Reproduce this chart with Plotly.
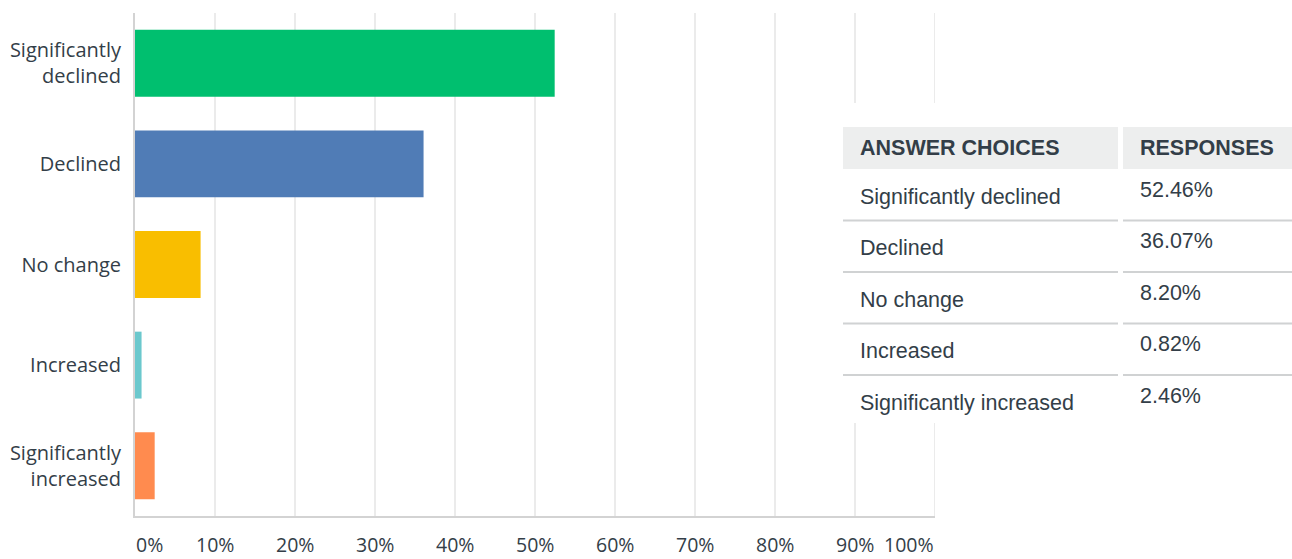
import plotly.graph_objects as go

# Survey answers, top to bottom
categories = ["Significantly declined", "Declined", "No change", "Increased", "Significantly increased"]
axis_labels = ["Significantly<br>declined", "Declined", "No change", "Increased", "Significantly<br>increased"]
responses = [52.46, 36.07, 8.20, 0.82, 2.46]
bar_colors = ["#00BF6F", "#507CB6", "#F9BE00", "#6BC8CD", "#FF8B4F"]

x_ticks = [0, 10, 20, 30, 40, 50, 60, 70, 80, 90, 100]
x_tick_labels = ["0%", "10%", "20%", "30%", "40%", "50%", "60%", "70%", "80%", "90%", "100%"]

table_header = ["ANSWER CHOICES", "RESPONSES"]

W, H = 1292, 559
L, R, T, B = 135, 935, 13, 516   # plot area in pixels

TEXT = "#333e48"
AXIS_FONT = "Open Sans"
TABLE_FONT = "Liberation Sans, Arial, sans-serif"
GRID = "#ebebeb"


def px(xp):
    return (xp - L) / (R - L)


def py(yp):
    return (B - yp) / (B - T)


fig = go.Figure(
    go.Bar(
        x=responses,
        y=axis_labels,
        orientation="h",
        marker=dict(color=bar_colors, line=dict(width=0)),
        hoverinfo="skip",
    )
)

fig.update_layout(
    width=W,
    height=H,
    margin=dict(l=L, r=W - R, t=T, b=H - B, pad=0, autoexpand=False),
    plot_bgcolor="white",
    paper_bgcolor="white",
    bargap=0.335,
    showlegend=False,
    font=dict(family=AXIS_FONT, size=20, color=TEXT),
)

fig.update_xaxes(
    range=[0, 100],
    tickvals=x_ticks,
    showticklabels=False,
    showgrid=True,
    gridcolor=GRID,
    gridwidth=2,
    zeroline=False,
    showline=True,
    linecolor="#d3d3d3",
    linewidth=2,
    automargin=False,
    fixedrange=True,
)
fig.update_yaxes(
    autorange="reversed",
    showgrid=False,
    showline=True,
    linecolor="#d3d3d3",
    linewidth=2,
    ticks="",
    ticklabelstandoff=8,
    tickfont=dict(family=AXIS_FONT, size=20, color=TEXT),
    automargin=False,
    fixedrange=True,
)

# x tick labels: first one starts at the axis, last one ends at it
annotations = []
for i, (v, lab) in enumerate(zip(x_ticks, x_tick_labels)):
    anchor = "left" if i == 0 else ("right" if i == len(x_ticks) - 1 else "center")
    annotations.append(dict(
        x=v, y=py(H), xref="x", yref="paper", text=lab, showarrow=False,
        xanchor=anchor, yanchor="bottom", borderpad=0,
        font=dict(family=AXIS_FONT, size=19.5, color=TEXT),
    ))

shapes = [
    # closing gridline at the right end of the value axis
    dict(type="line", xref="x", yref="paper", x0=x_ticks[-1], x1=x_ticks[-1],
         y0=0, y1=1, line=dict(color=GRID, width=2), layer="below"),
    # summary table to the right of the chart
    dict(type="rect", xref="paper", yref="paper", x0=px(843), x1=px(W + 5),
         y0=py(103), y1=py(423), fillcolor="white", line=dict(width=0), layer="above"),
    dict(type="rect", xref="paper", yref="paper", x0=px(843), x1=px(1118),
         y0=py(127), y1=py(169), fillcolor="#edeeee", line=dict(width=0), layer="above"),
    dict(type="rect", xref="paper", yref="paper", x0=px(1123), x1=px(W + 5),
         y0=py(127), y1=py(169), fillcolor="#edeeee", line=dict(width=0), layer="above"),
]

row_top = 169
row_h = 51.5
for i in range(1, len(categories)):
    yl = row_top + row_h * i
    for x0, x1 in ((843, 1118), (1123, W + 5)):
        shapes.append(dict(type="line", xref="paper", yref="paper",
                           x0=px(x0), x1=px(x1), y0=py(yl), y1=py(yl),
                           line=dict(color="#d0d2d3", width=2), layer="above"))

TABLE_SIZE = 21.5
for xp, txt in zip((858, 1138), table_header):
    annotations.append(dict(
        x=px(xp), y=py(148), xref="paper", yref="paper", text=f"<b>{txt}</b>",
        showarrow=False, xanchor="left", yanchor="middle",
        font=dict(family=TABLE_FONT, size=TABLE_SIZE, color=TEXT),
    ))

for i, (cat, val) in enumerate(zip(categories, responses)):
    center = row_top + row_h * i + row_h / 2
    annotations.append(dict(
        x=px(858), y=py(center + 2), xref="paper", yref="paper", text=cat,
        showarrow=False, xanchor="left", yanchor="middle",
        font=dict(family=TABLE_FONT, size=TABLE_SIZE, color=TEXT),
    ))
    annotations.append(dict(
        x=px(1138), y=py(center - 5), xref="paper", yref="paper", text=f"{val:.2f}%",
        showarrow=False, xanchor="left", yanchor="middle",
        font=dict(family=TABLE_FONT, size=TABLE_SIZE, color=TEXT),
    ))

fig.update_layout(shapes=shapes, annotations=annotations)

fig.write_html("out.html", config={"displayModeBar": False})
